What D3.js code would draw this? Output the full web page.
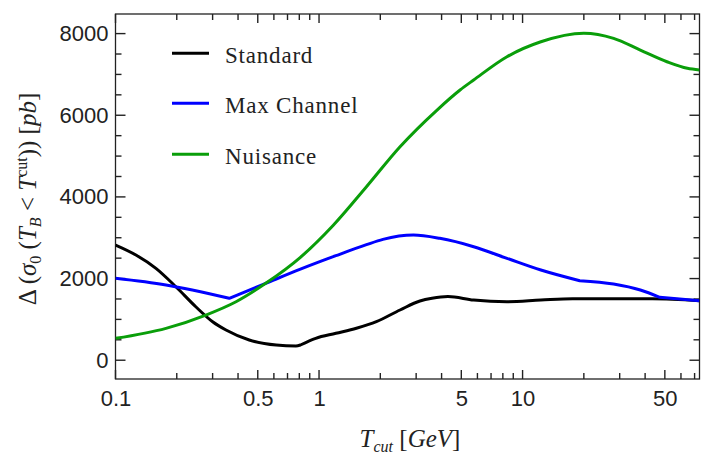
<!DOCTYPE html>
<html>
<head>
<meta charset="utf-8">
<script src="https://cdn.jsdelivr.net/npm/d3@7"></script>
<style>
  html, body { margin: 0; padding: 0; background: #fff; }
  svg { display: block; }
</style>
</head>
<body>
<svg id="chart" width="704" height="458"></svg>
<script>
// T_cut values in GeV, cross-section uncertainty in pb
const standardX = [0.1, 0.126, 0.158, 0.198, 0.248, 0.3, 0.349, 0.454, 0.616, 0.77, 0.81, 0.963, 1.21, 1.526, 1.913, 2.5, 3.13, 3.59, 4.3, 5.75, 8.38, 12.3, 17.6, 25.9, 43.5, 74];
const standardY = [2821, 2577, 2250, 1800, 1310, 943, 740, 495, 372, 348, 372, 536, 659, 784, 945, 1230, 1450, 1518, 1560, 1474, 1433, 1474, 1506, 1506, 1506, 1457];
const standardKinks = [0.81];

const maxChannelX = [0.1, 0.177, 0.362, 0.547, 0.81, 1.21, 1.71, 2.06, 2.91, 3.92, 5.75, 8.38, 12.3, 19.1, 28.0, 37.9, 47.2, 74];
const maxChannelY = [2006, 1842, 1516, 1883, 2230, 2560, 2830, 2960, 3066, 2985, 2780, 2496, 2209, 1947, 1866, 1719, 1540, 1457];
const maxChannelKinks = [0.362, 19.1, 47.2];

const nuisanceX = [0.1, 0.177, 0.278, 0.391, 0.547, 0.81, 1.172, 1.71, 2.5, 3.8, 4.93, 5.75, 8.38, 12.3, 20.0, 28.0, 37.9, 51.2, 64.5, 74];
const nuisanceY = [536, 781, 1107, 1433, 1883, 2520, 3300, 4249, 5229, 6128, 6618, 6863, 7433, 7800, 8010, 7884, 7597, 7311, 7149, 7108];
const nuisanceKinks = [];

const seriesNames = ["Standard", "Max Channel", "Nuisance"];
const seriesColors = ["#000000", "#0000ff", "#0a9e0a"];

const xMajorTicks = [0.1, 0.5, 1, 5, 10, 50];
const xMajorLabels = ["0.1", "0.5", "1", "5", "10", "50"];
const xMinorTicks = [0.2, 0.3, 0.4, 0.6, 0.7, 0.8, 0.9, 2, 3, 4, 6, 7, 8, 9, 20, 30, 40, 60, 70];
const yMajorTicks = [0, 2000, 4000, 6000, 8000];
const yMinorTicks = [500, 1000, 1500, 2500, 3000, 3500, 4500, 5000, 5500, 6500, 7000, 7500];

const svg = d3.select("#chart");
const plotLeft = 115.5, plotRight = 699.5, plotTop = 14, plotBottom = 379;

const x = d3.scaleLog().domain([0.1, 74]).range([plotLeft, plotRight]);
const y = d3.scaleLinear().domain([-460, 8480]).range([plotBottom, plotTop]);

const frameColor = "#222";
const labelFont = "'Liberation Sans', Arial, sans-serif";
const serif = "'Liberation Serif', 'Times New Roman', serif";

// tick labels from d3 axes
svg.append("g").attr("transform", `translate(0,${plotBottom})`)
  .call(d3.axisBottom(x).tickValues(xMajorTicks).tickSize(0).tickPadding(11)
        .tickFormat((d, i) => xMajorLabels[i]))
  .call(g => {
    g.select(".domain").remove();
    g.selectAll(".tick text").attr("fill", "#222").attr("font-family", labelFont).attr("font-size", 22);
  });
svg.append("g").attr("transform", `translate(${plotLeft},0)`)
  .call(d3.axisLeft(y).tickValues(yMajorTicks).tickSize(0).tickPadding(7).tickFormat(d3.format("d")))
  .call(g => {
    g.select(".domain").remove();
    g.selectAll(".tick text").attr("fill", "#222").attr("font-family", labelFont).attr("font-size", 22);
  });

// inward tick marks on all four sides
const tickMarks = svg.append("g");
const xTickSet = xMajorTicks.map(v => [v, 9]).concat(xMinorTicks.map(v => [v, 6]));
const yTickSet = yMajorTicks.map(v => [v, 10]).concat(yMinorTicks.map(v => [v, 6]));
function drawTick(x1, y1, x2, y2) {
  tickMarks.append("line")
    .attr("x1", x1).attr("y1", y1).attr("x2", x2).attr("y2", y2)
    .attr("stroke", frameColor).attr("stroke-width", 1.4);
}
xTickSet.forEach(([v, len]) => {
  const px = x(v);
  drawTick(px, plotBottom, px, plotBottom - len);
  drawTick(px, plotTop, px, plotTop + len);
});
yTickSet.forEach(([v, len]) => {
  const py = y(v);
  drawTick(plotLeft, py, plotLeft + len, py);
  drawTick(plotRight, py, plotRight - len, py);
});

// frame
svg.append("rect")
  .attr("x", plotLeft).attr("y", plotTop)
  .attr("width", plotRight - plotLeft).attr("height", plotBottom - plotTop)
  .attr("fill", "none").attr("stroke", frameColor).attr("stroke-width", 1.3);

// curves: smooth pieces joined at the kink points
const series = [
  { xs: standardX, ys: standardY, kinks: standardKinks },
  { xs: maxChannelX, ys: maxChannelY, kinks: maxChannelKinks },
  { xs: nuisanceX, ys: nuisanceY, kinks: nuisanceKinks }
];
const line = d3.line().x(d => x(d[0])).y(d => y(d[1])).curve(d3.curveMonotoneX);
const plot = svg.append("g");
plot.append("clipPath").attr("id", "clip").append("rect")
  .attr("x", plotLeft).attr("y", plotTop).attr("width", plotRight - plotLeft).attr("height", plotBottom - plotTop);
series.forEach((s, i) => {
  const pts = s.xs.map((v, k) => [v, s.ys[k]]);
  const pieces = [];
  let current = [];
  pts.forEach(p => {
    current.push(p);
    if (s.kinks.includes(p[0])) { pieces.push(current); current = [p]; }
  });
  if (current.length > 1) pieces.push(current);
  const d = pieces.map((piece, j) => {
    const seg = line(piece);
    return j === 0 ? seg : seg.replace(/^M[^A-Za-z]*/, "");
  }).join("");
  plot.append("path")
    .attr("d", d)
    .attr("fill", "none")
    .attr("stroke", seriesColors[i])
    .attr("stroke-width", 3)
    .attr("stroke-linejoin", "round")
    .attr("clip-path", "url(#clip)");
});

// legend
const legendY = [53.3, 103.3, 154.3];
const legend = svg.append("g");
seriesNames.forEach((name, i) => {
  legend.append("line")
    .attr("x1", 172).attr("x2", 209)
    .attr("y1", legendY[i]).attr("y2", legendY[i])
    .attr("stroke", seriesColors[i]).attr("stroke-width", 3);
  legend.append("text")
    .attr("x", 225).attr("y", legendY[i] + 9.5)
    .attr("font-family", serif).attr("font-size", 23)
    .attr("letter-spacing", 0.8)
    .attr("fill", "#222")
    .text(name);
});

// x-axis title: T_cut [GeV]
const xt = svg.append("text")
  .attr("x", 410).attr("y", 447)
  .attr("text-anchor", "middle")
  .attr("font-family", serif).attr("font-size", 25).attr("fill", "#222");
xt.append("tspan").attr("font-style", "italic").text("T");
xt.append("tspan").attr("font-style", "italic").attr("font-size", 16).attr("dy", 5).text("cut");
xt.append("tspan").attr("dy", -5).text(" [");
xt.append("tspan").attr("font-style", "italic").text("GeV");
xt.append("tspan").text("]");

// y-axis title: Δ(σ0(T_B < T^cut)) [pb]
const yt = svg.append("text")
  .attr("transform", "translate(36,199) rotate(-90)")
  .attr("text-anchor", "middle")
  .attr("font-family", serif).attr("font-size", 25).attr("fill", "#222");
yt.append("tspan").text("\u0394 (");
yt.append("tspan").attr("font-style", "italic").text("\u03c3");
yt.append("tspan").attr("font-size", 16).attr("dy", 5).text("0");
yt.append("tspan").attr("dy", -5).text(" (");
yt.append("tspan").attr("font-style", "italic").text("T");
yt.append("tspan").attr("font-style", "italic").attr("font-size", 16).attr("dy", 5).text("B");
yt.append("tspan").attr("dy", -5).text(" < ");
yt.append("tspan").attr("font-style", "italic").text("T");
yt.append("tspan").attr("font-size", 16).attr("dy", -9).text("cut");
yt.append("tspan").attr("dy", 9).text(")) ");
yt.append("tspan").text(" [");
yt.append("tspan").attr("font-style", "italic").text("pb");
yt.append("tspan").text("]");
</script>
</body>
</html>
